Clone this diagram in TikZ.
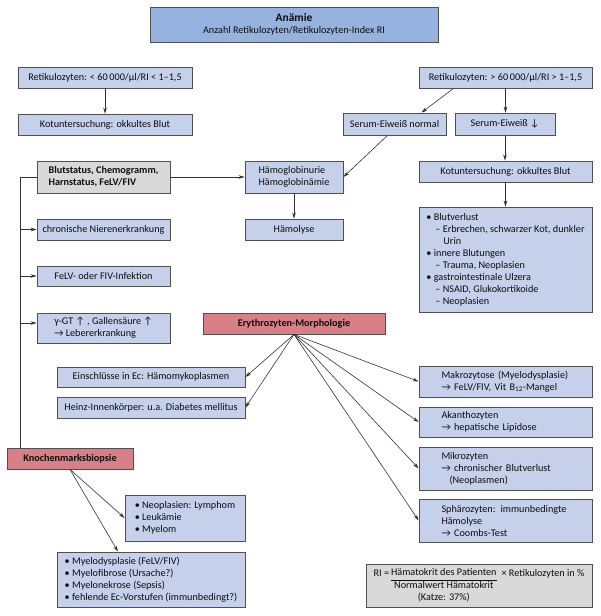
\documentclass[tikz,border=0pt]{standalone}
\usepackage{fontspec}
\setmainfont{Carlito}
\usetikzlibrary{arrows.meta}
\definecolor{boxblue}{RGB}{197,208,235}
\definecolor{headblue}{RGB}{149,179,222}
\definecolor{boxred}{RGB}{216,128,135}
\definecolor{boxgrey}{RGB}{217,217,217}
\definecolor{linegrey}{RGB}{80,80,80}
\newcommand{\bul}{\textbullet\ }
\newcommand{\dsh}{\hspace*{9pt}– }

\begin{document}
\begin{tikzpicture}[x=1pt,y=-1pt,font=\fontsize{10.2}{12}\selectfont,
        >={Stealth[length=6pt,width=3.6pt]},
        box/.style={draw=linegrey,line width=0.8pt,fill=boxblue,inner sep=2pt,text=black!95},
        redbox/.style={box,fill=boxred,font=\fontsize{10.2}{12}\selectfont\bfseries},
        greybox/.style={box,fill=boxgrey},
        rbox/.style={box,minimum width=173pt,text width=128pt,align=left},
        arr/.style={->,draw=black!80,line width=0.6pt}]
        \useasboundingbox (0,0) rectangle (600,616);

        \draw (294,24.5) node[box,fill=headblue,minimum width=288pt,minimum height=35pt,align=center] (anaemie) {{\fontsize{11.5}{14}\selectfont\bfseries Anämie}\\Anzahl Retikulozyten/Retikulozyten-Index RI};

        \draw (105,77.5) node[box,minimum width=174pt,minimum height=21pt] (retiL) {Retikulozyten: < 60\,000/µl/RI < 1–1,5};
        \draw (105,124.5) node[box,minimum width=174pt,minimum height=21pt] (kotL) {Kotuntersuchung: okkultes Blut};
        \draw (505.5,77.5) node[box,minimum width=173pt,minimum height=21pt] (retiR) {Retikulozyten: > 60\,000/µl/RI > 1–1,5};
        \draw (394.5,124) node[box,minimum width=103pt,minimum height=22pt] (serumN) {Serum-Eiweiß normal};
        \draw (505,124) node[box,minimum width=100pt,minimum height=22pt] (serumD) {Serum-Eiweiß ↓};
        \draw (505.5,171.5) node[box,minimum width=173pt,minimum height=21pt] (kotR) {Kotuntersuchung: okkultes Blut};
        \draw (505.5,259.5) node[box,minimum width=173pt,minimum height=105pt,align=left] (verlust) {\bul Blutverlust\\ \dsh Erbrechen, schwarzer Kot, dunkler\\ \hspace*{17pt}Urin\\ \bul innere Blutungen\\ \dsh Trauma, Neoplasien\\ \bul gastrointestinale Ulzera\\ \dsh NSAID, Glukokortikoide\\ \dsh Neoplasien};

        \draw (103.5,177) node[greybox,minimum width=133pt,minimum height=32pt,align=left,font=\fontsize{10.2}{12}\selectfont\bfseries] (blut) {Blutstatus, Chemogramm,\\Harnstatus, FeLV/FIV};
        \draw (294,177) node[box,minimum width=98pt,minimum height=32pt,align=left] (hbu) {Hämoglobinurie\\Hämoglobinämie};
        \draw (294,229.5) node[box,minimum width=98pt,minimum height=21pt] (haemolyse) {Hämolyse};
        \draw (103.5,229.5) node[box,minimum width=133pt,minimum height=21pt] (chron) {chronische Nierenerkrankung};
        \draw (103.5,276) node[box,minimum width=133pt,minimum height=20pt] (felv) {FeLV- oder FIV-Infektion};
        \draw (103.5,328) node[box,minimum width=133pt,minimum height=30pt,align=left] (ggt) {γ-GT ↑ , Gallensäure ↑\\→ Lebererkrankung};

        \draw (294,323.5) node[redbox,minimum width=182pt,minimum height=21pt] (ery) {Erythrozyten-Morphologie};
        \draw (151,377) node[box,minimum width=188pt,minimum height=20pt] (einschl) {Einschlüsse in Ec: Hämomykoplasmen};
        \draw (151,407.5) node[box,minimum width=188pt,minimum height=21pt] (heinz) {Heinz-Innenkörper: u.a. Diabetes mellitus};
        \draw (505.5,381.5) node[rbox,minimum height=31pt] (makro) {Makrozytose (Myelodysplasie)\\→ FeLV/FIV, Vit B\textsubscript{12}-Mangel};
        \draw (505.5,422) node[rbox,minimum height=30pt] (akantho) {Akanthozyten\\→ hepatische Lipidose};
        \draw (505.5,468.5) node[rbox,minimum height=43pt] (mikro) {Mikrozyten\\→ chronischer Blutverlust\\ \hspace*{8pt}(Neoplasmen)};
        \draw (505.5,520.5) node[rbox,minimum height=43pt] (sphaero) {Sphärozyten: immunbedingte\\Hämolyse\\→ Coombs-Test};

        \draw (70,458.5) node[redbox,minimum width=126pt,minimum height=21pt] (knochen) {Knochenmarksbiopsie};
        \draw (185,518) node[box,minimum width=120pt,minimum height=46pt,align=left] (neo) {\bul Neoplasien: Lymphom\\ \bul Leukämie\\ \bul Myelom};
        \draw (151,579.5) node[box,minimum width=188pt,minimum height=55pt,align=left] (myelo) {\bul Myelodysplasie (FeLV/FIV)\\ \bul Myelofibrose (Ursache?)\\ \bul Myelonekrose (Sepsis)\\ \bul fehlende Ec-Vorstufen (immunbedingt?)};
        \draw (479,585.5) node[greybox,minimum width=226pt,minimum height=43pt] (ri) {RI =\hspace{2pt}\raisebox{1.5pt}{\begin{tabular}[t]{@{}c@{}}Hämatokrit des Patienten\\[0.5pt]\hline Normalwert Hämatokrit\\(Katze: 37\%)\end{tabular}}\hspace{5pt}× Retikulozyten in \%};

        \draw[arr] (retiL) -- (kotL);
        \draw[arr] ([xshift=-52pt]retiR.south) -- ([xshift=27pt]serumN.north);
        \draw[arr] (retiR.south) -- (retiR.south |- serumD.north);
        \draw[arr] (serumD.south) -- (serumD.south |- kotR.north);
        \draw[arr] (kotR) -- (verlust);
        \draw[arr] ([xshift=-7pt]serumN.south) -- (hbu.east);
        \draw[arr] (blut) -- (hbu);
        \draw[arr] (hbu) -- (haemolyse);

        \coordinate (bus) at (20,177);
        \coordinate (ggtin) at ([yshift=5pt]ggt.west);
        \draw[draw=black!80,line width=0.6pt] (blut.west) -- (bus) -- (bus |- knochen.north);
        \draw[arr] (bus |- chron.west) -- (chron.west);
        \draw[arr] (bus |- felv.west) -- (felv.west);
        \draw[arr] (bus |- ggtin) -- (ggtin);

        \draw[arr] (ery.south) -- (einschl.east);
        \draw[arr] (ery.south) -- (heinz.east);
        \draw[arr] (ery.south) -- (makro.west);
        \draw[arr] (ery.south) -- (akantho.west);
        \draw[arr] (ery.south) -- (mikro.west);
        \draw[arr] (ery.south) -- (sphaero.west);

        \draw[arr] (knochen.south) -- (neo.west);
        \draw[arr] (knochen.south) -- ([xshift=-33pt]myelo.north);
\end{tikzpicture}
\end{document}
